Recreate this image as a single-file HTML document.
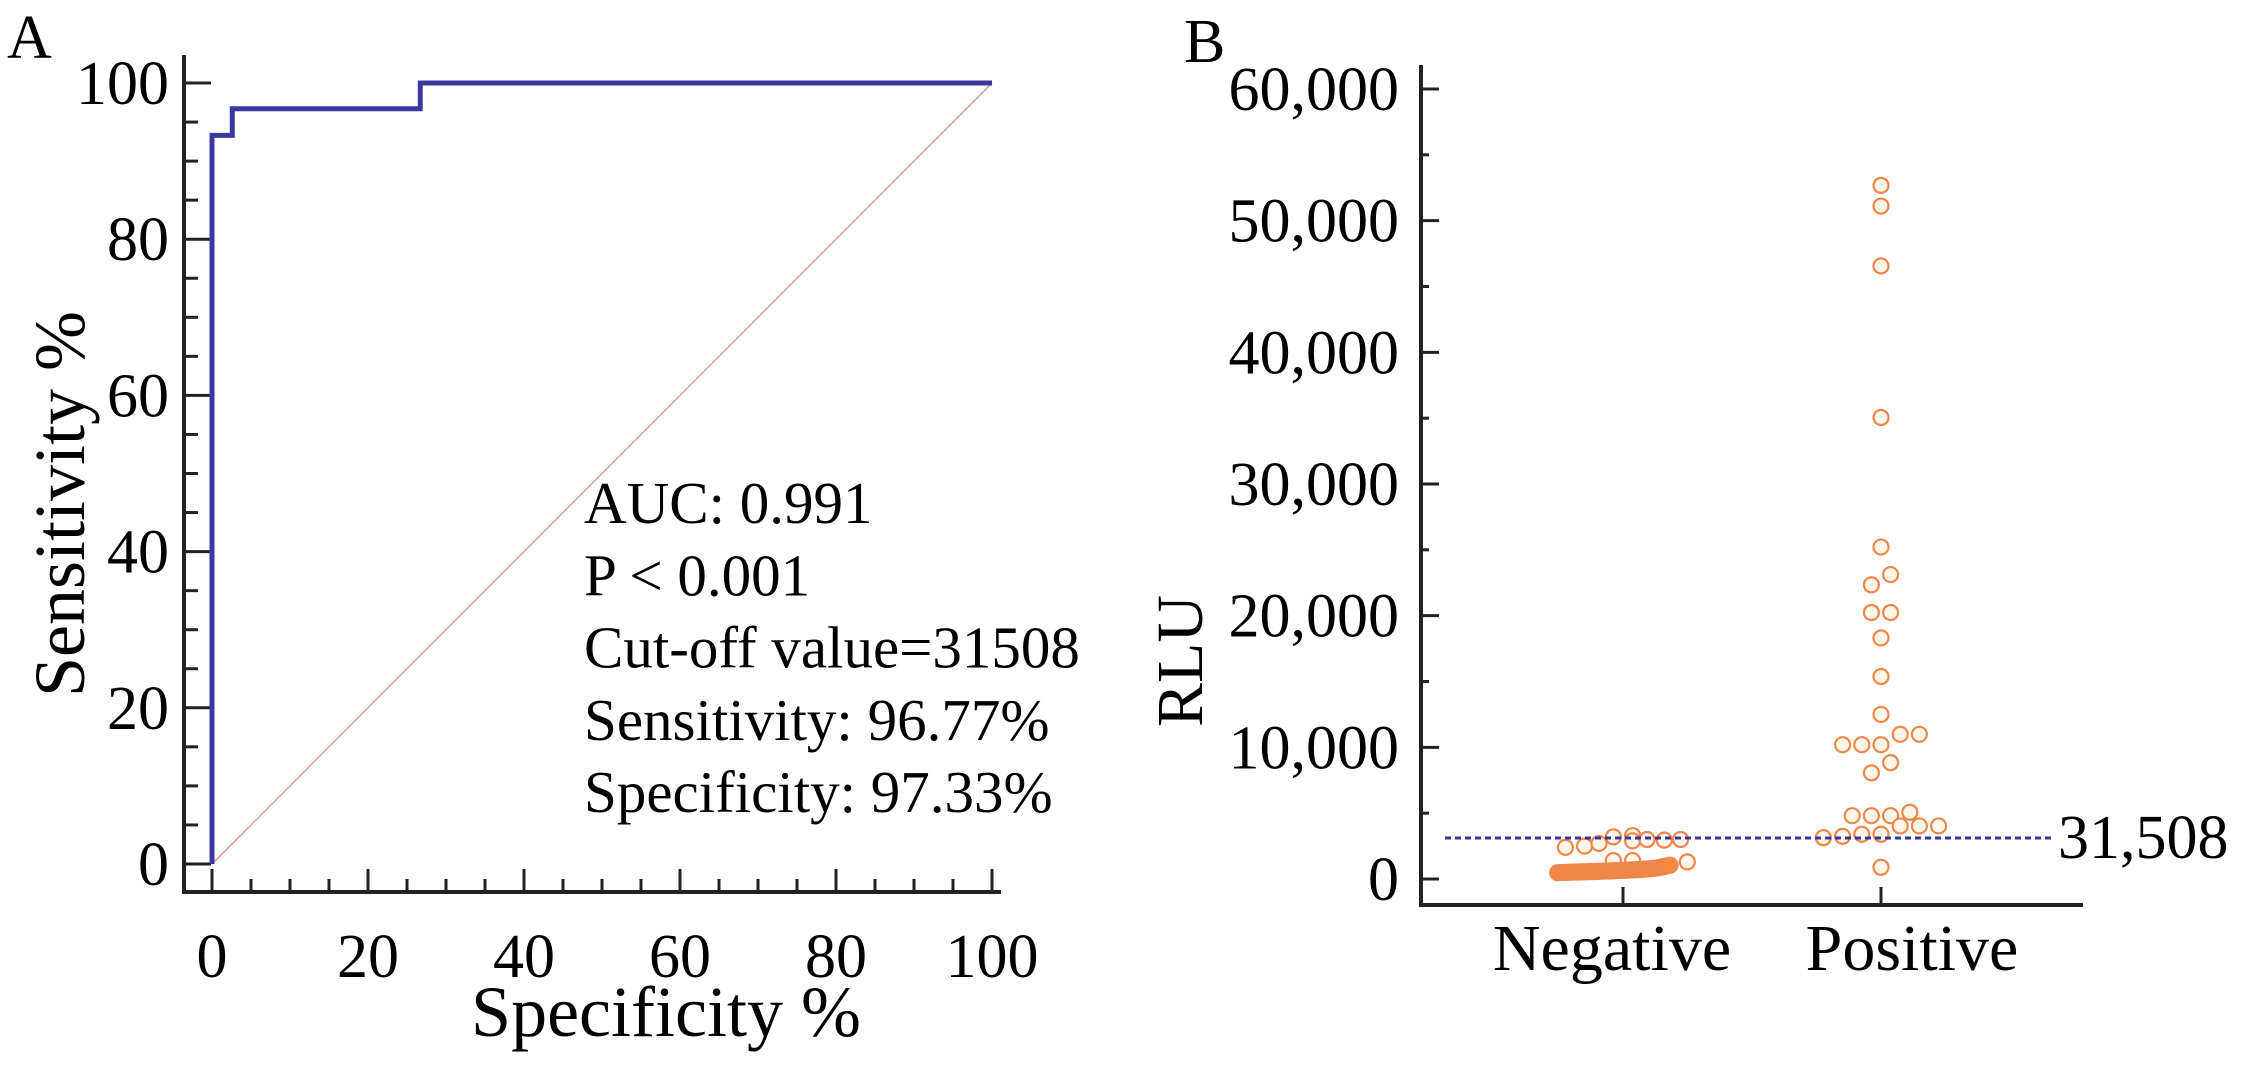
<!DOCTYPE html>
<html><head><meta charset="utf-8"><style>
html,body{margin:0;padding:0;background:#fff;width:2241px;height:1080px;overflow:hidden}
svg{display:block}
text{font-family:"Liberation Serif",serif;fill:#000}
</style></head><body>
<svg id="fig" width="2241" height="1080" viewBox="0 0 2241 1080">
<g id="pa"></g>
<g id="pb"></g>
</svg>
<script>
// ---- Panel A data ----
const rocSpec = [0, 0, 2.6, 2.6, 26.7, 26.7, 100];
const rocSens = [0, 93.3, 93.3, 96.7, 96.7, 100, 100];
const rocTicks = [0, 20, 40, 60, 80, 100];
const rocStats = ["AUC: 0.991", "P < 0.001", "Cut-off value=31508", "Sensitivity: 96.77%", "Specificity: 97.33%"];
// ---- Panel B data ----
const groups = ["Negative", "Positive"];
const rluTicks = [0, 10000, 20000, 30000, 40000, 50000, 60000];
const rluTickLabels = ["0", "10,000", "20,000", "30,000", "40,000", "50,000", "60,000"];
const cutoffValue = 3114;
const cutoffLabel = "31,508";
const posValues = [52680,51110,46560,35050,25210,23120,22340,20240,20240,18310,15380,12500,10990,10990,10200,10200,10200,8840,8060,4810,4810,4810,5070,4030,4030,4030,3400,3400,3240,3140,890];
const posJitter = [0,0,0,0,0,1,-1,-1,1,0,0,0,2,4,-4,-2,0,1,-1,-3,-1,1,3,2,4,6,-2,0,-4,-6,0];
const negValues = [2400,2500,2700,3200,3300,2900,3000,2950,3000,1400,1400,1300,
 480,490,500,500,510,520,520,530,540,540,550,560,560,570,580,590,600,600,610,620,630,640,650,660,670,680,690,700,710,720,740,760,780,800,830,860,900,950,1000,1050];
const negJitter = [-6,-4,-2.5,-1,1,1,2.5,4.3,6,-1,1,6.7,
 -6.8,-6.5,-6.2,-5.9,-5.6,-5.3,-5,-4.7,-4.4,-4.1,-3.8,-3.5,-3.2,-2.9,-2.6,-2.3,-2,-1.7,-1.4,-1.1,-0.8,-0.5,-0.2,0.1,0.4,0.7,1,1.3,1.6,1.9,2.2,2.5,2.8,3.1,3.4,3.7,4,4.3,4.6,4.9];

const NS="http://www.w3.org/2000/svg";
function mk(parent,tag,attrs,txt){const e=document.createElementNS(NS,tag);for(const k in attrs)e.setAttribute(k,attrs[k]);if(txt!==undefined)e.textContent=txt;parent.appendChild(e);return e;}

// ---------- Panel A ----------
const pa=document.getElementById('pa');
const ax=v=>212+v*7.8;
const ay=v=>864-v*7.81;
let t=mk(pa,'text',{x:7,y:58,'font-size':62});


t.textContent='A';
let l=mk(pa,'path',{d:'M184 55 V892 H1001',fill:'none',stroke:'#222','stroke-width':4});


for(let v=0;v<=100;v+=5){
  const major=v%20===0;
  const yt=mk(pa,'line',{x1:184,x2:major?211:198,y1:ay(v),y2:ay(v),stroke:'#222','stroke-width':3});
  
  
  const xt=mk(pa,'line',{x1:ax(v),x2:ax(v),y1:892,y2:major?869:879,stroke:'#222','stroke-width':3});
  
  
}
rocTicks.forEach(v=>{
  const a=mk(pa,'text',{x:169,y:ay(v)+21,'font-size':62,'text-anchor':'end'},String(v));
  
  
  const b=mk(pa,'text',{x:ax(v),y:977,'font-size':62,'text-anchor':'middle'},String(v));
  
  
});
let xt=mk(pa,'text',{x:666,y:1036,'font-size':72,'text-anchor':'middle'},'Specificity %');


let yt=mk(pa,'text',{x:0,y:0,'font-size':72,'text-anchor':'middle',transform:'translate(84,504) rotate(-90)'},'Sensitivity %');


let dg=mk(pa,'line',{x1:ax(0),y1:ay(0),x2:ax(100),y2:ay(100),stroke:'#d9a3a3','stroke-width':1.6});


let d='';rocSpec.forEach((s,i)=>{d+=(i?'L':'M')+ax(s)+' '+ay(rocSens[i])+' ';});
let rc=mk(pa,'path',{d:d,fill:'none',stroke:'#3a3a9e','stroke-width':5});


rocStats.forEach((s,i)=>{
  const e=mk(pa,'text',{x:584,y:523+i*72.3,'font-size':59},s);
  
  
});

// ---------- Panel B ----------
const pb=document.getElementById('pb');
const by=v=>879-v*790/60000;
const bx=[1623,1881];
const unit=9.6;
t=mk(pb,'text',{x:1184,y:62,'font-size':62},'B');


l=mk(pb,'path',{d:'M1421 65 V905 H2083',fill:'none',stroke:'#222','stroke-width':4});


for(let v=0;v<=60000;v+=5000){
  const major=v%10000===0;
  const tk=mk(pb,'line',{x1:1421,x2:major?1439:1429,y1:by(v),y2:by(v),stroke:'#222','stroke-width':3});
  
  
}
rluTicks.forEach((v,i)=>{
  const a=mk(pb,'text',{x:1399,y:by(v)+21,'font-size':62,'text-anchor':'end'},rluTickLabels[i]);
  
  
});
const lblX=[1612,1912];
groups.forEach((g,i)=>{
  const tk=mk(pb,'line',{x1:bx[i],x2:bx[i],y1:905,y2:887,stroke:'#222','stroke-width':3});
  
  
  const a=mk(pb,'text',{x:lblX[i],y:970,'font-size':66,'text-anchor':'middle'},g);
  
  
});
yt=mk(pb,'text',{x:0,y:0,'font-size':66,'text-anchor':'middle',transform:'translate(1202,661) rotate(-90)'},'RLU');


function dot(x,y,dense){
  const c=mk(pb,'circle',{cx:x,cy:y,r:7.5,fill:dense?'#f5883f':'#fff6ea',stroke:'#f0874a','stroke-width':2.2});
  
  
}
negValues.forEach((v,i)=>dot(bx[0]+negJitter[i]*unit,by(v),i>=12));
posValues.forEach((v,i)=>dot(bx[1]+posJitter[i]*unit,by(v),false));
let cl=mk(pb,'line',{x1:1445,x2:2055,y1:by(cutoffValue),y2:by(cutoffValue),stroke:'#3535a0','stroke-width':3,'stroke-dasharray':'6 4'});


let ct=mk(pb,'text',{x:2058,y:by(cutoffValue)+20,'font-size':62},cutoffLabel);


</script>
</body></html>
